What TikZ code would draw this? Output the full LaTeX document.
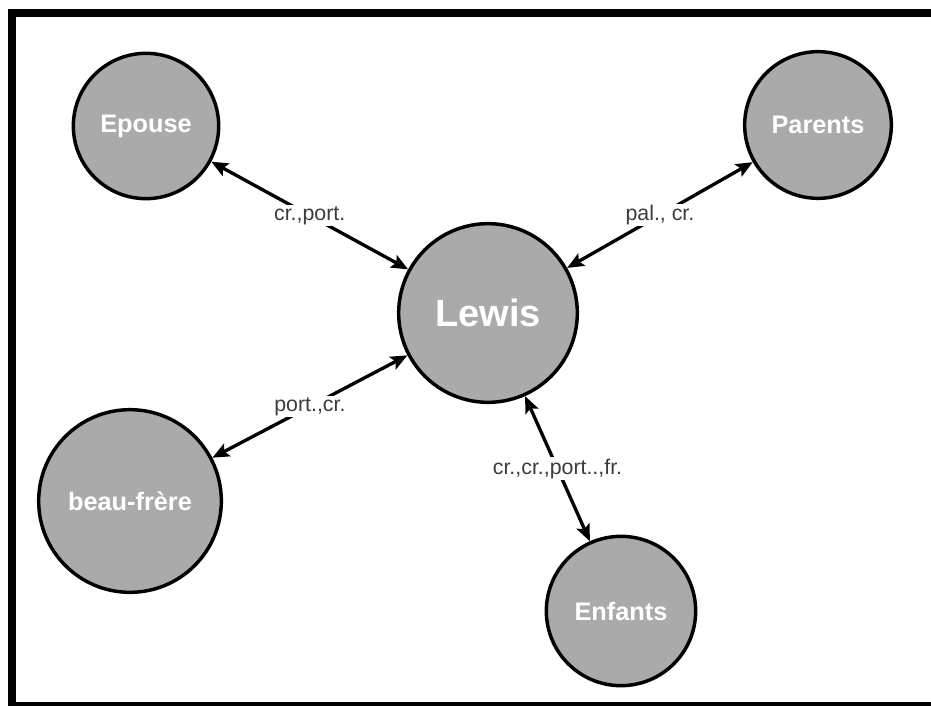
\documentclass[tikz,border=0pt]{standalone}
\usepackage{fontspec}
\setmainfont{Liberation Sans}
\usetikzlibrary{arrows.meta}
\definecolor{nodegray}{RGB}{170,170,170}
\definecolor{labelgray}{RGB}{60,60,60}
\begin{document}
\begin{tikzpicture}[x=0.75pt,y=-0.75pt,
  person/.style={circle, draw=black, line width=2.6pt, fill=nodegray, text=white,
    font=\bfseries\fontsize{19}{22}\selectfont, inner sep=0pt},
  conn/.style={{Stealth[length=12.5pt,width=10.5pt,inset=2.5pt]}-{Stealth[length=12.5pt,width=10.5pt,inset=2.5pt]}, line width=2.5pt, black},
  elabel/.style={fill=white, text=labelgray, inner sep=1pt, font=\fontsize{16}{18}\selectfont}
]
\useasboundingbox (0,0) rectangle (931,706);
\begin{scope}
\clip (0,0) rectangle (931,706);
\draw[line width=6pt] (931,13) -- (11.5,13) -- (11.5,706) -- (931,706);
\end{scope}

\node[person, minimum size=134pt, font=\bfseries\fontsize{28.5}{32}\selectfont] (lewis) at (488,313) {Lewis};
\node[person, minimum size=109pt] (epouse) at (146,126) {Epouse};
\node[person, minimum size=110pt] (parents) at (818,125) {Parents};
\node[person, minimum size=137pt] (beau) at (130,501) {beau-frère};
\node[person, minimum size=112pt] (enfants) at (621,611) {Enfants};

\draw[conn] (epouse) -- node[elabel] {cr.,port.} (lewis);
\draw[conn] (parents) -- node[elabel] {pal., cr.} (lewis);
\draw[conn] (beau) -- node[elabel] {port.,cr.} (lewis);
\draw[conn] (lewis) -- node[elabel] {cr.,cr.,port..,fr.} (enfants);
\end{tikzpicture}
\end{document}
